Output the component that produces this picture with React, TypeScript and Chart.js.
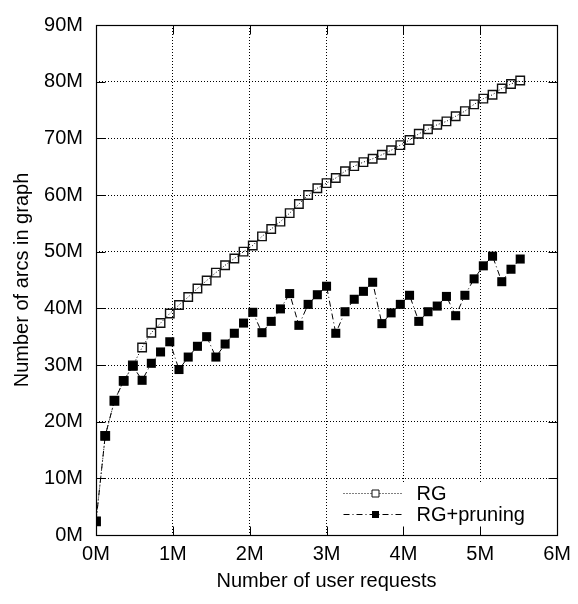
import React, { useEffect, useRef } from 'react';
import { Chart, registerables } from 'chart.js';

Chart.register(...registerables);

// ---- data (millions) ----
const requestsM = [
  0, 0.12, 0.24, 0.36, 0.48, 0.6, 0.72, 0.84, 0.96, 1.08,
  1.2, 1.32, 1.44, 1.56, 1.68, 1.8, 1.92, 2.04, 2.16, 2.28,
  2.4, 2.52, 2.64, 2.76, 2.88, 3.0, 3.12, 3.24, 3.36, 3.48,
  3.6, 3.72, 3.84, 3.96, 4.08, 4.2, 4.32, 4.44, 4.56, 4.68,
  4.8, 4.92, 5.04, 5.16, 5.28, 5.4, 5.52,
];
const rgArcsM = [
  2.4, 17.5, 23.7, 27.2, 29.9, 33.1, 35.7, 37.4, 39.1, 40.6,
  42.0, 43.5, 44.9, 46.3, 47.6, 48.8, 50.0, 51.1, 52.7, 54.0,
  55.3, 56.8, 58.4, 60.0, 61.2, 62.1, 63.0, 64.2, 65.1, 65.8,
  66.4, 67.1, 67.9, 68.8, 69.7, 70.8, 71.6, 72.4, 73.0, 73.9,
  74.8, 76.0, 77.0, 77.7, 78.8, 79.6, 80.2,
];
const prunedArcsM = [
  2.4, 17.5, 23.7, 27.2, 29.8, 27.3, 30.3, 32.3, 34.1, 29.2,
  31.4, 33.3, 35.0, 31.4, 33.7, 35.6, 37.4, 39.3, 35.7, 37.7,
  39.9, 42.6, 37.0, 40.7, 42.4, 43.9, 35.6, 39.4, 41.6, 43.0,
  44.6, 37.3, 39.2, 40.7, 42.3, 37.7, 39.4, 40.4, 42.1, 38.7,
  42.3, 45.2, 47.5, 49.2, 44.7, 46.9, 48.7,
];
const xTicks = [0, 1, 2, 3, 4, 5, 6];
const yTicks = [0, 10, 20, 30, 40, 50, 60, 70, 80, 90];
const seriesLabels = ['RG', 'RG+pruning'];
const xTitle = 'Number of user requests';
const yTitle = 'Number of arcs in graph';

const FONT = { family: '"Liberation Sans", Arial, Helvetica, sans-serif', size: 20 };

const gnuplotFrame = {
  id: 'gnuplotFrame',
  afterDatasetsDraw(chart: any) {
    const { ctx, chartArea } = chart;
    const { left, right, top, bottom } = chartArea;
    const L = Math.round(left) + 0.5;
    const R = Math.round(right) + 0.5;
    const T = Math.round(top) + 0.5;
    const B = Math.round(bottom) + 0.5;
    ctx.save();
    // legend background
    ctx.fillStyle = '#ffffff';
    ctx.fillRect(R - 226, B - 52, 225, 51);
    // frame
    ctx.strokeStyle = '#000';
    ctx.lineWidth = 1.2;
    ctx.setLineDash([]);
    ctx.strokeRect(L, T, R - L, B - T);
    // inward ticks on all four sides
    const tl = 9;
    ctx.lineWidth = 1;
    ctx.beginPath();
    chart.scales.x.ticks.forEach((t: any) => {
      const px = Math.round(chart.scales.x.getPixelForValue(t.value)) + 0.5;
      ctx.moveTo(px, B); ctx.lineTo(px, B - tl);
      ctx.moveTo(px, T); ctx.lineTo(px, T + tl);
    });
    chart.scales.y.ticks.forEach((t: any) => {
      const py = Math.round(chart.scales.y.getPixelForValue(t.value)) + 0.5;
      ctx.moveTo(L, py); ctx.lineTo(L + tl, py);
      ctx.moveTo(R, py); ctx.lineTo(R - tl, py);
    });
    ctx.stroke();
    // legend entries
    const rows = [B - 43, B - 22];
    chart.data.datasets.forEach((ds: any, i: number) => {
      const y = Math.round(rows[i]) + 0.5;
      ctx.strokeStyle = '#000';
      ctx.lineWidth = 1;
      ctx.setLineDash(ds.borderDash || []);
      ctx.beginPath();
      ctx.moveTo(R - 214, y);
      ctx.lineTo(R - 156, y);
      ctx.stroke();
      ctx.setLineDash([]);
      const mx = Math.round(R - 183) + 0.5;
      const s = 3.5;
      ctx.beginPath();
      ctx.rect(mx - s, y - s, 2 * s, 2 * s);
      if (ds.pointBorderWidth > 0) {
        ctx.fillStyle = '#ffffff';
        ctx.fill();
        ctx.lineWidth = 1;
        ctx.strokeStyle = ds.pointBorderColor;
        ctx.stroke();
      } else {
        ctx.fillStyle = ds.pointBackgroundColor;
        ctx.fill();
      }
      ctx.fillStyle = '#000';
      ctx.font = `${FONT.size}px ${FONT.family}`;
      ctx.textAlign = 'left';
      ctx.textBaseline = 'middle';
      ctx.fillText(ds.label, R - 141, y + 1);
    });
    ctx.restore();
  },
};

export default function App() {
  const ref = useRef<HTMLCanvasElement>(null);
  useEffect(() => {
    if (!ref.current) return;
    const chart = new Chart(ref.current, {
      type: 'line',
      data: {
        datasets: [
          {
            label: seriesLabels[0],
            data: requestsM.map((x, i) => ({ x, y: rgArcsM[i] })),
            borderColor: '#000',
            borderWidth: 1,
            borderDash: [1, 2],
            pointStyle: 'rect',
            pointRadius: 6.0,
            pointBorderWidth: 1.4,
            pointBorderColor: '#111',
            pointBackgroundColor: 'rgba(0,0,0,0)',
            tension: 0,
            order: 1,
          },
          {
            label: seriesLabels[1],
            data: requestsM.map((x, i) => ({ x, y: prunedArcsM[i] })),
            borderColor: '#000',
            borderWidth: 1,
            borderDash: [6, 3, 1, 3],
            pointStyle: 'rect',
            pointRadius: 6.4,
            pointBorderWidth: 0,
            pointBorderColor: '#000',
            pointBackgroundColor: '#000',
            tension: 0,
            order: 0,
          },
        ],
      },
      options: {
        animation: false,
        responsive: false,
        events: [],
        layout: { padding: { top: 14, right: 16, left: 0, bottom: 0 } },
        plugins: { legend: { display: false }, tooltip: { enabled: false } },
        scales: {
          x: {
            type: 'linear',
            min: 0,
            max: 6,
            afterBuildTicks: (s: any) => { s.ticks = xTicks.map((v) => ({ value: v })); },
            afterFit: (s: any) => { s.height = 69; },
            ticks: {
              callback: (v: any) => `${v}M`,
              font: FONT,
              color: '#000',
              padding: 7,
              maxRotation: 0,
              autoSkip: false,
            },
            grid: { color: '#000', lineWidth: 1, drawTicks: false },
            border: { display: false, dash: [1, 2] },
            title: { display: true, text: xTitle, font: FONT, color: '#000', padding: { top: 0, bottom: 11 } },
          },
          y: {
            type: 'linear',
            min: 0,
            max: 90,
            afterBuildTicks: (s: any) => { s.ticks = yTicks.map((v) => ({ value: v })); },
            afterFit: (s: any) => { s.width = 96; },
            ticks: {
              callback: (v: any) => `${v}M`,
              font: FONT,
              color: '#000',
              padding: 13,
              autoSkip: false,
            },
            grid: { color: '#000', lineWidth: 1, drawTicks: false },
            border: { display: false, dash: [1, 2] },
            title: { display: true, text: yTitle, font: FONT, color: '#000', padding: { top: 10, bottom: 0 } },
          },
        },
      },
      plugins: [gnuplotFrame],
    } as any);
    return () => chart.destroy();
  }, []);
  return (
    <div style={{ position: 'absolute', left: 0, top: 0, width: 578, height: 604, background: '#fff' }}>
      <canvas ref={ref} width={578} height={604} style={{ width: 578, height: 604, display: 'block' }} />
    </div>
  );
}
